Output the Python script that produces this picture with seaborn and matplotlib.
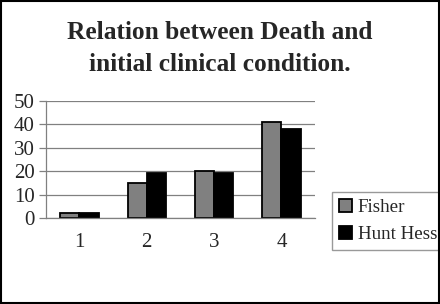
import pandas as pd
import matplotlib.pyplot as plt
import seaborn as sns

# values
categories = ['1', '2', '3', '4']
fisher = [2, 15, 20, 41]
hunt_hess = [2, 19, 19, 38]
series_names = ['Fisher', 'Hunt Hess']

df = pd.DataFrame({
    'grade': categories * 2,
    'deaths': fisher + hunt_hess,
    'scale': [series_names[0]] * 4 + [series_names[1]] * 4,
})

sns.set_style('white')
plt.rcParams['font.family'] = ['Liberation Serif', 'DejaVu Serif']

fig = plt.figure(figsize=(4.4, 3.04), dpi=100)
ax = fig.add_axes([0.104, 0.283, 0.612, 0.385])

sns.barplot(data=df, x='grade', y='deaths', hue='scale',
            palette=['#808080', '#000000'], edgecolor='black',
            linewidth=1.3, width=0.57, ax=ax, legend=True)

ax.set_ylim(0, 50)
ax.set_xlim(-0.5, 3.5)
ax.set_yticks([0, 10, 20, 30, 40, 50])
ax.yaxis.grid(True, color='#808080', linewidth=0.9)
ax.set_axisbelow(True)
ax.set_xlabel('')
ax.set_ylabel('')
for s in ['top', 'right']:
    ax.spines[s].set_visible(False)
for s in ['left', 'bottom']:
    ax.spines[s].set_color('#808080')
    ax.spines[s].set_linewidth(0.9)

# excel-like tick marks between the categories
ax.set_xticks([-0.5, 0.5, 1.5, 2.5, 3.5], minor=True)
ax.tick_params(axis='x', which='major', length=0, labelsize=15, pad=11)
ax.tick_params(axis='x', which='minor', length=5, color='#808080', width=0.9)
ax.tick_params(axis='y', length=5, color='#808080', width=0.9, labelsize=15,
               direction='out', left=True, pad=3)

fig.text(0.5, 0.84, 'Relation between Death and\ninitial clinical condition.',
         ha='center', va='center', fontsize=18.3, fontweight='bold',
         linespacing=1.5)

ax.legend(loc='upper left', bbox_to_anchor=(0.755, 0.368),
          bbox_transform=fig.transFigure, frameon=True, fancybox=False,
          edgecolor='#808080', fontsize=13.7, handlelength=0.7,
          handleheight=0.7, handletextpad=0.3, borderpad=0.35,
          labelspacing=0.5, borderaxespad=0)

fig.patches.append(plt.Rectangle((0.002, 0.003), 0.996, 0.994,
                                 transform=fig.transFigure, fill=False,
                                 edgecolor='black', linewidth=1.5))

fig.savefig('out.png', dpi=100)
